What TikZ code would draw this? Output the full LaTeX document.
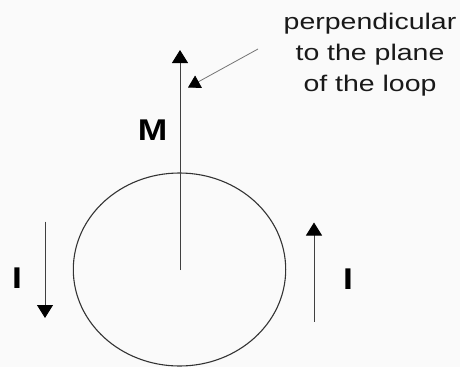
\documentclass[tikz,border=0pt]{standalone}
\usepackage{fontspec}
\setmainfont{Liberation Sans}
\usetikzlibrary{arrows.meta,shapes.geometric}
\begin{document}
\begin{tikzpicture}[x=1pt,y=-1pt,
  vec/.style={draw=black!75, line width=0.9pt, -{Triangle[length=13pt,width=16pt,color=black,fill=black]}},
  pointer/.style={draw=black!55, line width=0.8pt, -{Triangle[length=12pt,width=14pt,color=black,fill=black]}},
  loop/.style={draw=black!80, line width=1.1pt},
  lbl/.style={inner sep=0pt, font=\bfseries\fontsize{30}{36}\selectfont, xscale=1.18},
  note/.style={inner sep=0pt, align=center, text=black!90, font=\fontsize{22.6}{31}\selectfont, xscale=1.26}]
  \fill[black!2] (0,0) rectangle (460,367);
  \useasboundingbox (0,0) rectangle (460,367);
  % loop
  \node[loop, ellipse, minimum width=212.4pt, minimum height=193pt, inner sep=0pt, draw] (ring) at (179.5,269.5) {};
  % magnetic moment
  \coordinate (c) at (180,270);
  \coordinate (mtop) at (180,50);
  \draw[vec] (c) -- (mtop);
  \node[lbl, anchor=base] (m) at (152.5,140) {M};
  % note
  \node[note, anchor=north] (note) at (370,12.8) {perpendicular\\to the plane\\of the loop};
  \coordinate (ps) at (258,49);
  \coordinate (pe) at (188,87.5);
  \draw[pointer] (ps) -- (pe);
  % currents
  \coordinate (l1) at (45,221.5);
  \coordinate (l2) at (45,318);
  \draw[vec] (l1) -- (l2);
  \node[lbl, anchor=base] (il) at (17,288.5) {I};
  \coordinate (r1) at (314,321.5);
  \coordinate (r2) at (314,222.5);
  \draw[vec] (r1) -- (r2);
  \node[lbl, anchor=base] (ir) at (348,289) {I};
\end{tikzpicture}
\end{document}
